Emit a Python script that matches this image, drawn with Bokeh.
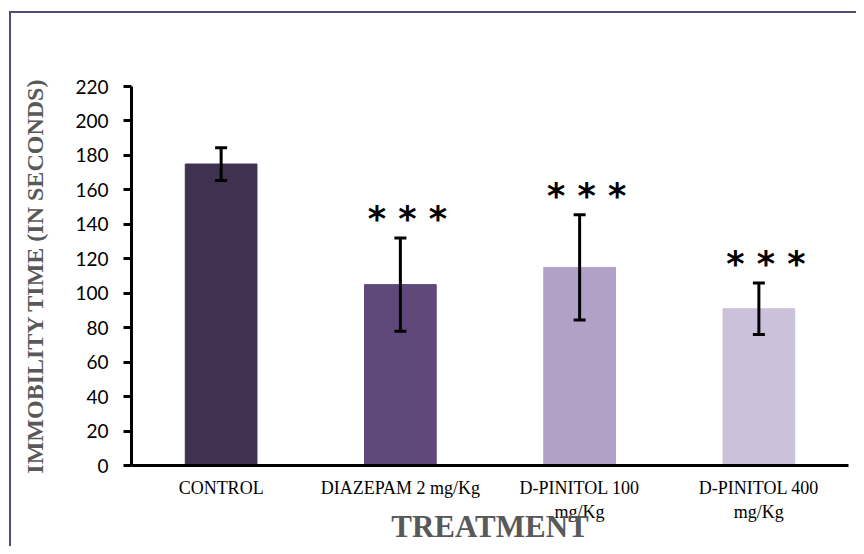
from bokeh.plotting import figure
from bokeh.models import (ColumnDataSource, Range1d, FixedTicker, Whisker, TeeHead)
from bokeh.core.properties import value
from bokeh.embed import file_html
from bokeh.resources import INLINE

categories = ["CONTROL", "DIAZEPAM 2 mg/Kg", "D-PINITOL 100\nmg/Kg", "D-PINITOL 400\nmg/Kg"]
means = [175, 105, 115, 91]
errors = [9.5, 27, 30.5, 15]
stars = ["", "* * *", "* * *", "* * *"]
colors = ["#403151", "#5F497A", "#B2A1C7", "#CCC1DA"]
y_ticks = list(range(0, 221, 20))

xs = [i + 0.5 for i in range(len(categories))]
src = ColumnDataSource(dict(
    x=xs, top=means, color=colors,
    lower=[m - e for m, e in zip(means, errors)],
    upper=[m + e for m, e in zip(means, errors)],
    star=stars,
    star_y=[m + e + 11 for m, e in zip(means, errors)],
))

W, H = 856, 546
FL, FR, FT, FB = 131, 848, 86, 465
p = figure(width=W, height=H, output_backend="svg", toolbar_location=None,
           x_range=Range1d(0, len(categories)), y_range=Range1d(0, 220),
           min_border_left=FL, min_border_right=W - FR, min_border_top=FT,
           min_border_bottom=H - FB)
p.outline_line_color = None
p.xgrid.visible = False
p.ygrid.visible = False
p.background_fill_color = "white"
p.border_fill_alpha = 0
# outer chart border (left and top edges) painted behind the transparent canvas margin
p.styles = {
    "background": ("linear-gradient(#544a7d,#544a7d) 9px 11px / 2px 100% no-repeat, "
                   "linear-gradient(#544a7d,#544a7d) 9px 11px / 100% 2px no-repeat, white"),
}

p.vbar(x="x", top="top", width=0.4, color="color", source=src)
w = Whisker(base="x", lower="lower", upper="upper", source=src,
            line_color="black", line_width=3, level="annotation",
            upper_head=TeeHead(size=12, line_width=3, line_color="black"),
            lower_head=TeeHead(size=12, line_width=3, line_color="black"))
p.add_layout(w)

p.text(x="x", y="star_y", text="star", source=src, text_align="center",
       text_baseline="alphabetic", text_font=value("DejaVu Sans"),
       text_font_style="bold", text_font_size="35px", text_color="black",
       x_offset=7)

# y axis
ya = p.yaxis[0]
ya.ticker = FixedTicker(ticks=y_ticks)
ya.axis_line_width = 3
ya.axis_line_color = "black"
ya.major_tick_line_width = 3
ya.major_tick_line_color = "black"
ya.major_tick_out = 8
ya.major_tick_in = 0
ya.minor_tick_line_color = None
ya.major_label_text_font = "Lato"
ya.major_label_text_font_size = "19px"
ya.major_label_text_color = "black"
ya.major_label_standoff = 15
ya.axis_label = "IMMOBILITY TIME (IN SECONDS)"
ya.axis_label_text_font = "Liberation Serif"
ya.axis_label_text_font_style = "bold"
ya.axis_label_text_font_size = "24px"
ya.axis_label_text_color = "#595959"
ya.axis_label_standoff = 24

# x axis
xa = p.xaxis[0]
xa.ticker = FixedTicker(ticks=xs)
xa.major_label_overrides = {x: c for x, c in zip(xs, categories)}
xa.axis_line_width = 3
xa.axis_line_color = "black"
xa.major_tick_line_color = None
xa.minor_tick_line_color = None
xa.major_label_text_font = "Liberation Serif"
xa.major_label_text_font_size = "18px"
xa.major_label_text_color = "black"
xa.major_label_standoff = 6
xa.axis_label = "TREATMENT"
xa.axis_label_text_font = "Liberation Serif"
xa.axis_label_text_font_style = "bold"
xa.axis_label_text_font_size = "31px"
xa.axis_label_text_color = "#595959"
xa.axis_label_standoff = -16

open("out.html", "w").write(file_html(p, INLINE))
